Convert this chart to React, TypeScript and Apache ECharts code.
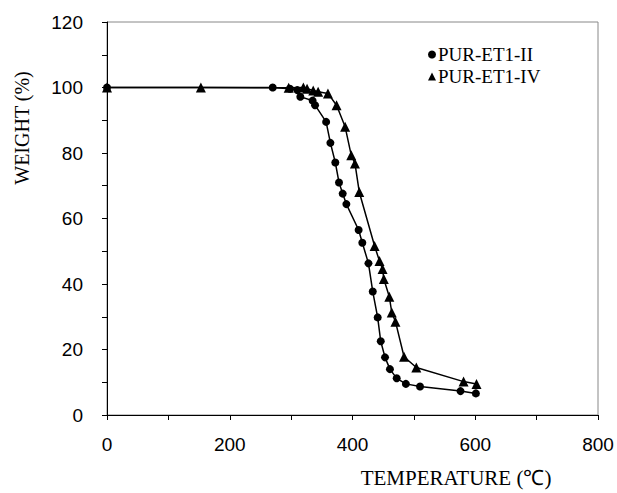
import React, { useEffect, useRef } from "react";
import * as echarts from "echarts";

const seriesNames = ["PUR-ET1-II", "PUR-ET1-IV"];

const tempII = [0, 270, 298, 310, 315, 335, 339, 357, 364, 372, 378, 384, 390, 410, 416, 426, 433, 441, 446, 453, 461, 472, 487, 510, 576, 601];
const weightII = [100, 100, 99.6, 99.2, 97.2, 96.0, 94.6, 89.5, 83.1, 77.1, 71.0, 67.6, 64.4, 56.5, 52.6, 46.3, 37.7, 29.8, 22.5, 17.6, 14.0, 11.2, 9.5, 8.7, 7.3, 6.6];

const tempIV = [0, 153, 296, 320, 326, 336, 344, 360, 374, 388, 398, 404, 411, 436, 444, 449, 451, 460, 464, 470, 484, 504, 581, 602];
const weightIV = [100, 100, 99.9, 100, 99.6, 99.1, 98.7, 98.2, 94.6, 88.0, 79.3, 76.8, 68.1, 51.6, 47.0, 44.6, 41.5, 36.1, 31.3, 28.5, 17.8, 14.5, 10.2, 9.5];

const xMin = 0, xMax = 800, xStep = 200;
const yMin = 0, yMax = 120, yStep = 20;

const xTitle = "TEMPERATURE (℃)";
const yTitle = "WEIGHT (%)";

export default function App() {
  const ref = useRef<HTMLDivElement>(null);
  useEffect(() => {
    if (!ref.current) return;
    const chart = echarts.init(ref.current, undefined, { renderer: "svg" });
    const pair = (xs: number[], ys: number[]) => xs.map((x, i) => [x, ys[i]]);
    const serif = "'Liberation Serif', 'Times New Roman', serif";
    const sans = "'Liberation Sans', Arial, sans-serif";
    chart.setOption({
      animation: false,
      backgroundColor: "#ffffff",
      grid: {
        left: 107,
        top: 22,
        width: 491,
        height: 393,
        containLabel: false,
        outerBoundsMode: "none",
        show: true,
        borderColor: "#888",
        borderWidth: 1,
      },
      legend: {
        orient: "vertical",
        left: 423,
        top: 40,
        itemWidth: 8,
        itemHeight: 8,
        itemGap: 3,
        textStyle: { fontFamily: serif, fontSize: 19, color: "#000", padding: [0, 0, 0, -3] },
        data: [
          { name: seriesNames[0], icon: "circle" },
          { name: seriesNames[1], icon: "triangle" },
        ],
      },
      graphic: [
        {
          type: "text",
          x: 22,
          y: 128,
          rotation: Math.PI / 2,
          style: {
            text: yTitle,
            fontFamily: serif,
            fontSize: 20,
            fill: "#000",
            align: "center",
            verticalAlign: "middle",
          },
        },
        {
          type: "text",
          x: 456,
          y: 478,
          style: {
            text: xTitle,
            fontFamily: serif,
            fontSize: 21,
            fill: "#000",
            align: "center",
            verticalAlign: "middle",
          },
        },
      ],
      xAxis: {
        type: "value",
        min: xMin,
        max: xMax,
        interval: xStep,
        axisLine: { show: true, lineStyle: { color: "#000", width: 1 } },
        axisTick: { show: true, length: 5, lineStyle: { color: "#000" } },
        minorTick: { show: true, splitNumber: 2, length: 5, lineStyle: { color: "#000" } },
        splitLine: { show: false },
        axisLabel: { fontFamily: sans, fontSize: 19, color: "#000", margin: 20 },
      },
      yAxis: {
        type: "value",
        min: yMin,
        max: yMax,
        interval: yStep,
        axisLine: { show: true, lineStyle: { color: "#000", width: 1 } },
        axisTick: { show: true, length: 5, lineStyle: { color: "#000" } },
        minorTick: { show: true, splitNumber: 2, length: 5, lineStyle: { color: "#000" } },
        splitLine: { show: false },
        axisLabel: { fontFamily: sans, fontSize: 19, color: "#000", margin: 24 },
      },
      series: [
        {
          name: seriesNames[0],
          type: "line",
          data: pair(tempII, weightII),
          symbol: "circle",
          symbolSize: 8,
          itemStyle: { color: "#000" },
          lineStyle: { color: "#000", width: 1.5 },
        },
        {
          name: seriesNames[1],
          type: "line",
          data: pair(tempIV, weightIV),
          symbol: "triangle",
          symbolSize: 10,
          itemStyle: { color: "#000" },
          lineStyle: { color: "#000", width: 1.5 },
        },
      ],
    });
    return () => chart.dispose();
  }, []);
  return (
    <div
      ref={ref}
      style={{ position: "fixed", left: 0, top: 0, width: 617, height: 493, background: "#fff" }}
    />
  );
}
